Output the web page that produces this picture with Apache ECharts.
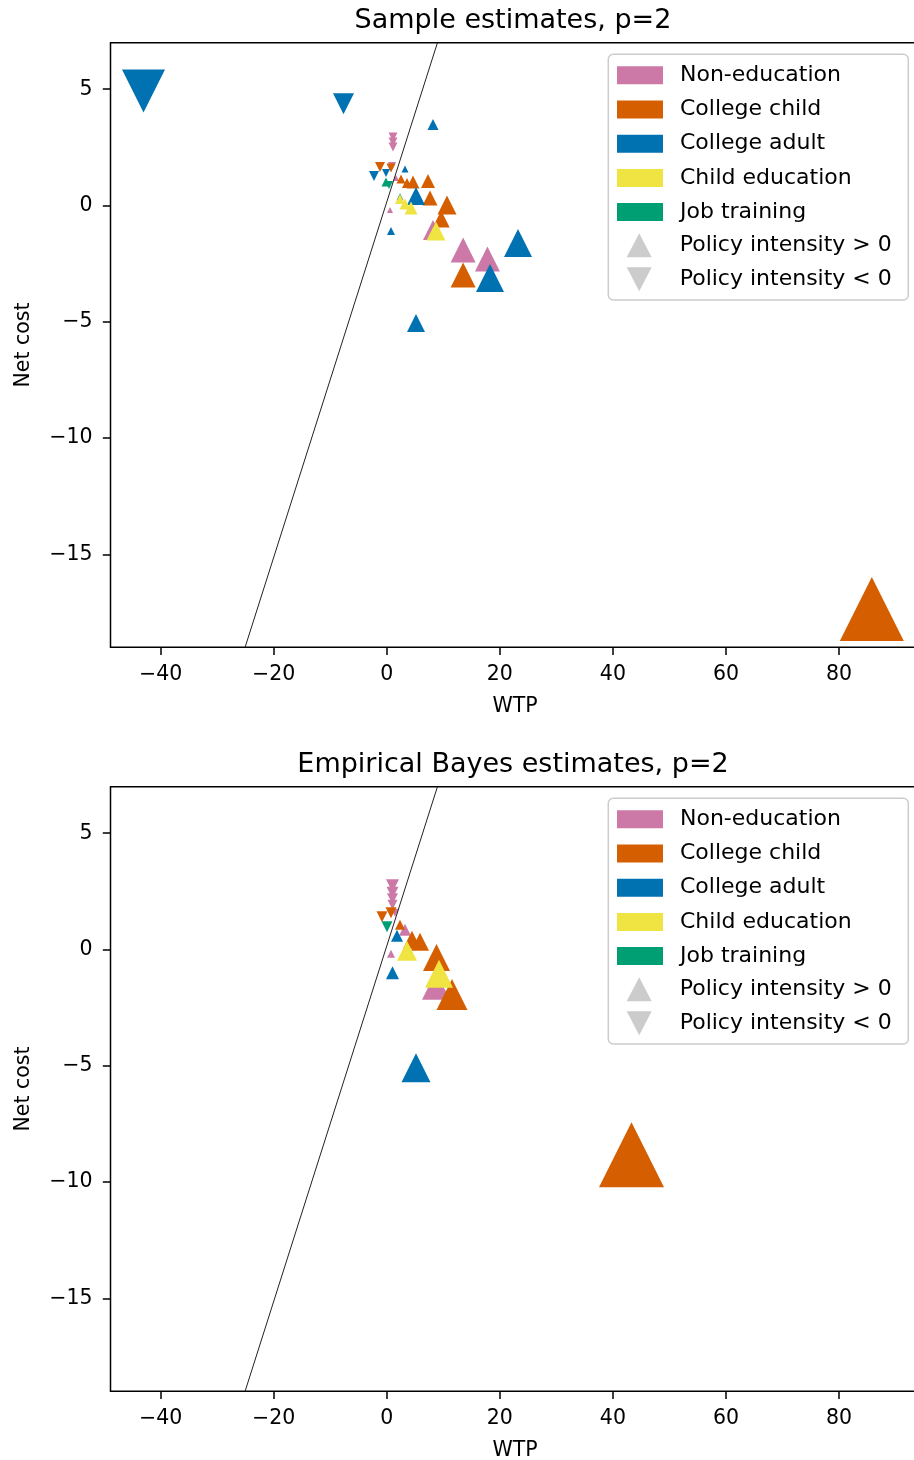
<!DOCTYPE html>
<html><head><meta charset="utf-8">
<script src="https://cdn.jsdelivr.net/npm/echarts@6/dist/echarts.min.js"></script>
<style>html,body{margin:0;padding:0;background:#fff}#c{width:914px;height:1460px}</style>
</head><body><div id="c"></div>
<script>
// ---------- data ----------
const categories = ['Non-education', 'College child', 'College adult', 'Child education', 'Job training'];
const colors = ['#CC79A7', '#D55E00', '#0072B2', '#F0E442', '#009E73'];
const panelTitles = ['Sample estimates, p=2', 'Empirical Bayes estimates, p=2'];
const intensityLabels = ['Policy intensity > 0', 'Policy intensity < 0'];
const xTicks = [-40, -20, 0, 20, 40, 60, 80];
const yTicks = [-15, -10, -5, 0, 5];
const refLine = [[-25.07, -19], [8.96, 7]];

// each point: [WTP, net cost, |policy intensity| (marker size), sign of intensity]
const sampleNonEducation = [[1.10,2.95,9,-1],[1.10,2.73,9,-1],[1.10,2.52,9,-1],[0.92,1.70,8,-1],[1.63,1.18,6,1],[0.57,-0.19,6,1],[8.17,-1.05,20,1],[13.5,-1.91,25,1],[17.8,-2.30,25,1]];
const sampleCollegeChild = [[-1.20,1.66,10,-1],[0.74,1.61,9,-1],[2.51,1.14,9,1],[3.57,0.97,10,1],[4.64,1.01,13,1],[7.29,1.05,14,1],[7.64,0.32,15,1],[10.65,0.02,19,1],[9.62,-0.58,17,1],[13.5,-2.99,25,1],[85.8,-17.35,64,1]];
const sampleCollegeAdult = [[-43.04,4.92,43,-1],[-7.66,4.37,21,-1],[8.17,3.48,11,1],[-2.26,1.27,10,-1],[-0.14,1.40,8,-1],[3.22,1.57,7,1],[2.34,0.37,7,1],[5.17,0.41,18,1],[0.74,-1.10,8,1],[23.21,-1.61,28,1],[18.26,-3.12,28,1],[5.17,-5.05,18,1]];
const sampleChildEducation = [[2.34,0.28,10,1],[3.22,0.06,11,1],[4.28,-0.11,13,1],[8.70,-1.10,19,1]];
const sampleJobTraining = [[-0.14,1.01,9,1],[0.39,0.88,8,-1]];

const ebNonEducation = [[1.01,2.74,13,-1],[1.01,2.44,12,-1],[1.01,2.18,11,-1],[1.01,1.92,10,-1],[1.45,1.58,8,-1],[3.22,0.85,12,1],[0.74,-0.18,8,1],[8.70,-1.56,28,1]];
const ebCollegeChild = [[-0.85,1.41,11,-1],[0.74,1.58,11,-1],[2.34,1.06,10,1],[4.46,0.42,18,1],[5.87,0.33,18,1],[8.79,-0.35,27,1],[11.54,-1.94,31,1],[43.29,-8.83,65,1]];
const ebCollegeAdult = [[1.80,0.59,12,1],[1.01,-1.00,13,1],[5.17,-5.09,29,1]];
const ebChildEducation = [[3.57,-0.05,20,1],[9.24,-1.04,28,1]];
const ebJobTraining = [[0.04,0.98,11,-1]];

const panels = [
  [sampleNonEducation, sampleCollegeChild, sampleCollegeAdult, sampleChildEducation, sampleJobTraining],
  [ebNonEducation, ebCollegeChild, ebCollegeAdult, ebChildEducation, ebJobTraining]
];

// ---------- chart ----------
const FONT = 'DejaVu Sans';
const OFFSET = 744;
const minus = v => String(v).replace('-', '\u2212');

const grids = [], xAxes = [], yAxes = [], titles = [], legends = [], graphics = [], series = [];
panels.forEach((cats, p) => {
  const dy = p * OFFSET;
  grids.push({left: 110.5, top: 42.7 + dy, width: 809, height: 604.6, show: true,
    borderColor: '#000', borderWidth: 1.5, backgroundColor: 'transparent',
    containLabel: false, outerBoundsMode: 'none'});
  xAxes.push({type: 'value', gridIndex: p, min: -48.88, max: 94.24,
    name: 'WTP', nameLocation: 'middle', nameGap: 49,
    nameTextStyle: {fontFamily: FONT, fontSize: 20.5, color: '#000'},
    axisLine: {show: false, onZero: false},
    axisTick: {show: true, length: 7.7, lineStyle: {color: '#000', width: 1.5}, customValues: xTicks},
    axisLabel: {fontFamily: FONT, fontSize: 20.5, color: '#000', margin: 17, customValues: xTicks, formatter: minus},
    splitLine: {show: false}});
  yAxes.push({type: 'value', gridIndex: p, min: -19, max: 7,
    name: 'Net cost', nameLocation: 'middle', nameGap: 76, nameRotate: 90,
    nameTextStyle: {fontFamily: FONT, fontSize: 20.5, color: '#000'},
    axisLine: {show: false, onZero: false},
    axisTick: {show: true, length: 7.7, lineStyle: {color: '#000', width: 1.5}, customValues: yTicks},
    axisLabel: {fontFamily: FONT, fontSize: 20.5, color: '#000', margin: 18, padding: [5, 0, 0, 0], customValues: yTicks, formatter: minus},
    splitLine: {show: false}});
  titles.push({text: panelTitles[p], left: 513, top: 7 + dy, textAlign: 'center', padding: 0,
    textStyle: {fontFamily: FONT, fontSize: 27, fontWeight: 'normal', color: '#000'}});
  graphics.push({type: 'rect', z: 5, shape: {x: 608.3, y: 54.3 + dy, width: 300, height: 245.7, r: 5},
    style: {fill: 'rgba(255,255,255,0.8)', stroke: '#cccccc', lineWidth: 1.5}});
  legends.push({orient: 'vertical', left: 617, top: 63.3 + dy, padding: 0, itemWidth: 46, itemHeight: 18, itemGap: 10.2,
    selectedMode: false, z: 6,
    data: categories.map(n => ({name: n, icon: 'rect'})),
    textStyle: {fontFamily: FONT, fontSize: 22, lineHeight: 24, color: '#000', padding: [0, 0, 0, 12]}});
  legends.push({orient: 'vertical', left: 626.7, top: 233.3 + dy, padding: 0, itemWidth: 25, itemHeight: 24, itemGap: 10,
    selectedMode: false, z: 6,
    data: [{name: intensityLabels[0], icon: 'path://M12.5,0L25,24L0,24Z'}, {name: intensityLabels[1], icon: 'path://M0,0L25,0L12.5,24Z'}],
    textStyle: {fontFamily: FONT, fontSize: 22, lineHeight: 24, color: '#000', padding: [0, 0, 0, 23]}});

  cats.forEach((pts, c) => {
    series.push({type: 'scatter', name: categories[c], xAxisIndex: p, yAxisIndex: p,
      symbol: 'triangle', itemStyle: {color: colors[c], opacity: 1}, z: 2,
      emphasis: {disabled: true},
      data: pts.map(d => ({value: [d[0], d[1]], symbolSize: d[2], symbolRotate: d[3] < 0 ? 180 : 0}))});
  });
  series.push({type: 'line', xAxisIndex: p, yAxisIndex: p, data: refLine, symbol: 'none', z: 3,
    lineStyle: {color: '#222', width: 1}, silent: true});
});
intensityLabels.forEach(n => series.push({type: 'scatter', name: n, data: [], itemStyle: {color: '#bfbfbf'}}));

const chart = echarts.init(document.getElementById('c'), null, {renderer: 'canvas'});
chart.setOption({
  animation: false, backgroundColor: '#fff',
  title: titles, grid: grids, xAxis: xAxes, yAxis: yAxes, legend: legends, graphic: graphics, series: series
});
</script></body></html>
